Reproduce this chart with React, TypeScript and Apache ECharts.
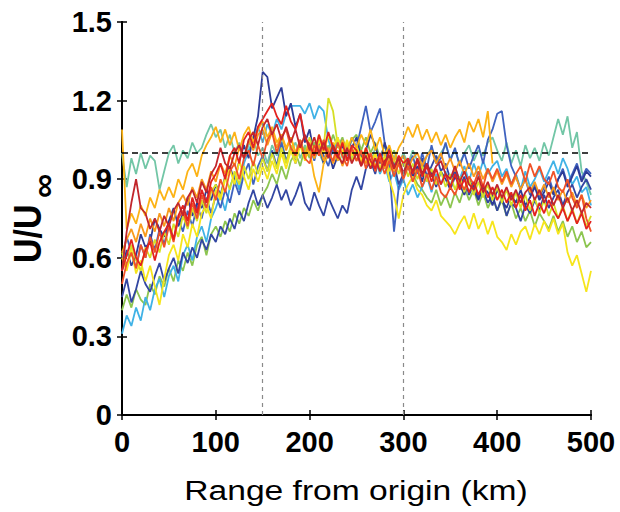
import React, { useEffect, useRef } from "react";
import * as echarts from "echarts";

// Range from origin (km), sampled every 5 km
const rangeKm: number[] = Array.from({ length: 101 }, (_, i) => i * 5);

const xTicks = [0, 100, 200, 300, 400, 500];
const yTicks = [0, 0.3, 0.6, 0.9, 1.2, 1.5];
const refLevel = [1.0];
const refRanges = [150, 300];

const navyPeak = [
  0.55, 0.63, 0.57, 0.61, 0.69, 0.64, 0.66, 0.75, 0.71, 0.68,
  0.74, 0.79, 0.72, 0.77, 0.83, 0.76, 0.81, 0.79, 0.86, 0.82,
  0.88, 0.84, 0.91, 0.95, 0.89, 0.97, 1.03, 0.98, 1.06, 1.14,
  1.31, 1.29, 1.17, 1.21, 1.25, 1.14, 1.19, 1.10, 1.15, 1.04,
  1.09, 0.99, 1.03, 0.96, 1.01, 0.94, 0.99, 1.03, 0.97, 1.02,
  1.06, 0.98, 1.01, 1.07, 1.03, 0.96, 1.04, 0.98, 0.93, 0.97,
  0.92, 0.98, 0.91, 0.95, 0.89, 0.96, 0.92, 0.87, 0.93, 0.90,
  0.86, 0.91, 0.88, 0.84, 0.90, 0.86, 0.82, 0.87, 0.85, 0.80,
  0.86, 0.82, 0.79, 0.84, 0.81, 0.86, 0.80, 0.83, 0.87, 0.82,
  0.85, 0.89, 0.84, 0.90, 0.93, 0.87, 0.91, 0.95, 0.89, 0.93, 0.91,
];
const navyLow = [
  0.45, 0.52, 0.43, 0.48, 0.55, 0.50, 0.47, 0.53, 0.58, 0.51,
  0.56, 0.60, 0.54, 0.62, 0.58, 0.64, 0.60, 0.67, 0.63, 0.69,
  0.66, 0.72, 0.69, 0.75, 0.71, 0.78, 0.74, 0.81, 0.86, 0.80,
  0.84, 0.79, 0.83, 0.88, 0.82, 0.86, 0.80, 0.84, 0.89, 0.81,
  0.78, 0.85, 0.80, 0.76, 0.83, 0.79, 0.75, 0.80, 0.77, 0.86,
  0.91, 0.86, 0.94, 0.97, 0.92, 1.00, 0.95, 1.02, 0.96, 0.88,
  0.92, 0.96, 0.89, 0.94, 0.98, 0.91, 0.95, 0.99, 0.93, 0.96,
  0.90, 0.93, 0.87, 0.91, 0.84, 0.88, 0.83, 0.86, 0.81, 0.84,
  0.78, 0.83, 0.76, 0.81, 0.79, 0.74, 0.80, 0.77, 0.82, 0.78,
  0.84, 0.79, 0.83, 0.86, 0.80, 0.85, 0.88, 0.83, 0.87, 0.90, 0.86,
];
const blueMid = [
  0.60, 0.68, 0.62, 0.56, 0.65, 0.60, 0.69, 0.63, 0.71, 0.65,
  0.73, 0.67, 0.75, 0.70, 0.78, 0.72, 0.80, 0.75, 0.83, 0.77,
  0.84, 0.79, 0.86, 0.81, 0.89, 0.84, 0.92, 0.96, 0.88, 0.95,
  0.99, 0.93, 1.01, 0.95, 1.04, 0.97, 1.02, 0.96, 1.05, 0.99,
  1.03, 0.97, 1.04, 0.99, 0.95, 1.02, 0.97, 1.05, 0.99, 1.06,
  1.02, 1.10, 1.18, 1.08, 1.12, 1.17, 1.04, 0.95, 0.70, 0.87,
  0.91, 0.95, 0.99, 0.92, 1.00, 0.94, 1.03, 0.96, 0.98, 1.04,
  0.97, 1.02, 0.95, 1.00, 0.94, 0.99, 1.03, 0.96, 1.05, 1.09,
  1.15, 1.16, 1.03, 0.95, 0.91, 0.86, 0.90, 0.84, 0.88, 0.83,
  0.87, 0.91, 0.85, 0.90, 0.94, 0.88, 0.92, 0.96, 0.90, 0.94, 0.92,
];
const skyBlue = [
  0.31, 0.38, 0.34, 0.41, 0.36, 0.45, 0.40, 0.48, 0.52, 0.45,
  0.53, 0.57, 0.51, 0.61, 0.65, 0.59, 0.68, 0.72, 0.66, 0.75,
  0.79, 0.84, 0.78, 0.87, 0.92, 0.86, 0.96, 1.01, 1.05, 1.10,
  1.04, 1.11, 1.07, 1.13, 1.09, 1.15, 1.18, 1.18, 1.18, 1.15,
  1.19, 1.13, 1.18, 1.16, 1.05, 1.00, 1.06, 0.99, 1.03, 0.97,
  1.01, 0.96, 1.00, 0.94, 0.98, 0.92, 0.96, 0.89, 0.93, 0.86,
  0.90, 0.84, 0.88, 0.83, 0.87, 0.91, 0.85, 0.92, 0.88, 0.93,
  0.87, 0.94, 0.90, 0.95, 0.89, 0.96, 0.91, 0.97, 0.92, 0.95,
  0.97, 0.91, 0.94, 0.88, 0.92, 0.86, 0.93, 0.87, 0.90, 0.94,
  0.89, 0.93, 0.97, 0.92, 0.98, 0.94, 0.88, 0.91, 0.85, 0.87, 0.80,
];
const teal = [
  1.00, 0.87, 0.98, 0.92, 1.00, 0.94, 0.99, 0.97, 0.86, 0.93,
  1.00, 1.03, 0.96, 1.01, 0.98, 1.04, 1.00, 1.02, 1.07, 1.11,
  1.06, 1.09, 1.02, 1.07, 1.00, 1.04, 0.98, 1.03, 1.06, 0.99,
  1.02, 0.96, 1.03, 0.99, 1.05, 0.97, 1.01, 1.04, 0.98, 1.03,
  0.99, 1.04, 1.00, 0.96, 1.03, 1.00, 1.05, 0.98, 1.02, 0.97,
  1.03, 0.99, 1.01, 0.96, 1.02, 0.98, 1.00, 0.95, 0.99, 0.96,
  1.00, 0.96, 1.01, 0.97, 0.94, 0.99, 1.02, 0.97, 1.00, 1.03,
  0.98, 1.01, 0.96, 1.00, 1.03, 0.97, 1.01, 0.99, 1.04, 1.06,
  1.01, 0.97, 1.04, 0.96, 1.01, 0.95, 1.03, 0.98, 1.02, 0.97,
  1.04, 0.99, 1.06, 1.13, 1.07, 1.14, 1.02, 1.08, 0.93, 0.89, 0.84,
];
const lightGreen = [
  0.40, 0.46, 0.41, 0.48, 0.44, 0.42, 0.50, 0.46, 0.53, 0.49,
  0.56, 0.51, 0.59, 0.55, 0.62, 0.57, 0.65, 0.68, 0.61, 0.69,
  0.72, 0.68, 0.74, 0.70, 0.77, 0.73, 0.79, 0.76, 0.82, 0.78,
  0.84, 0.87, 0.92, 0.88, 0.95, 0.90, 0.97, 1.00, 0.95, 1.02,
  0.98, 1.04, 0.99, 1.05, 1.01, 1.07, 1.02, 1.06, 1.00, 1.05,
  1.07, 1.01, 1.06, 1.00, 1.04, 0.98, 1.03, 0.97, 1.01, 0.96,
  0.99, 0.94, 0.92, 0.88, 0.86, 0.83, 0.81, 0.86, 0.80, 0.84,
  0.79, 0.85, 0.81, 0.87, 0.82, 0.86, 0.80, 0.85, 0.79, 0.83,
  0.78, 0.82, 0.76, 0.81, 0.75, 0.79, 0.74, 0.78, 0.72, 0.77,
  0.74, 0.71, 0.76, 0.70, 0.74, 0.68, 0.72, 0.66, 0.70, 0.64, 0.66,
];
const yellow = [
  0.60, 0.55, 0.63, 0.54, 0.59, 0.51, 0.57, 0.49, 0.42, 0.52,
  0.61, 0.65, 0.59, 0.69, 0.64, 0.73, 0.68, 0.77, 0.80, 0.75,
  0.86, 0.82, 0.90, 0.94, 0.88, 0.97, 0.91, 0.86, 0.94, 0.89,
  0.95, 0.90, 0.97, 0.92, 1.00, 0.94, 1.01, 0.96, 1.03, 0.97,
  1.03, 0.98, 1.05, 1.00, 1.07, 1.02, 1.06, 1.00, 1.05, 0.99,
  1.03, 0.97, 1.02, 0.95, 1.00, 0.93, 0.98, 0.90, 0.84, 0.75,
  0.84, 0.88, 0.91, 0.86, 0.84, 0.80, 0.78, 0.82, 0.76, 0.74,
  0.72, 0.69, 0.73, 0.76, 0.71, 0.77, 0.71, 0.75, 0.69, 0.74,
  0.68, 0.66, 0.63, 0.69, 0.65, 0.70, 0.72, 0.67, 0.73, 0.69,
  0.74, 0.70, 0.75, 0.69, 0.73, 0.62, 0.57, 0.61, 0.54, 0.47, 0.55,
];
const lime = [
  0.62, 0.56, 0.65, 0.59, 0.55, 0.64, 0.60, 0.67, 0.62, 0.70,
  0.65, 0.73, 0.68, 0.76, 0.71, 0.79, 0.74, 0.82, 0.77, 0.85,
  0.88, 0.83, 0.91, 0.86, 0.93, 0.88, 0.95, 0.90, 0.97, 0.92,
  0.98, 0.93, 1.00, 0.94, 1.02, 0.96, 1.03, 0.98, 1.05, 0.99,
  1.06, 1.00, 1.07, 1.02, 1.21, 1.16, 1.03, 0.99, 1.04, 0.97,
  1.02, 0.96, 1.01, 0.95, 1.00, 0.94, 0.99, 0.93, 0.98, 0.92,
  0.97, 0.91, 0.96, 0.90, 0.95, 0.89, 0.94, 0.88, 0.93, 0.87,
  0.92, 0.86, 0.91, 0.85, 0.90, 0.84, 0.89, 0.83, 0.88, 0.82,
  0.87, 0.81, 0.86, 0.80, 0.85, 0.79, 0.84, 0.78, 0.83, 0.77,
  0.82, 0.76, 0.81, 0.75, 0.80, 0.74, 0.79, 0.73, 0.78, 0.72, 0.76,
];
const gold = [
  1.09, 0.71, 0.77, 0.73, 0.80, 0.76, 0.83, 0.79, 0.86, 0.82,
  0.87, 0.83, 0.90, 0.86, 0.93, 0.96, 0.91, 0.99, 1.03, 1.06,
  1.10, 1.04, 1.09, 1.03, 1.08, 1.01, 1.07, 1.10, 1.04, 1.09,
  1.12, 1.06, 1.10, 1.04, 1.07, 1.02, 1.06, 1.00, 1.04, 0.98,
  1.01, 0.91, 0.85, 0.96, 0.99, 1.04, 0.97, 1.05, 1.01, 1.06,
  1.02, 1.07, 1.03, 1.09, 1.01, 1.06, 0.99, 1.03, 0.97, 1.02,
  1.05, 1.10, 1.06, 1.11, 1.05, 1.09, 1.04, 1.08, 1.03, 1.07,
  1.02, 1.06, 1.09, 1.04, 1.12, 1.08, 1.13, 1.06, 1.16, 0.96,
  null, null, null, null, null, null, null, null, null, null,
  null, null, null, null, null, null, null, null, null, null, null,
];
const orangeRed = [
  0.50, 0.58, 0.62, 0.56, 0.65, 0.60, 0.68, 0.62, 0.70, 0.64,
  0.72, 0.66, 0.75, 0.78, 0.72, 0.81, 0.75, 0.84, 0.79, 0.87,
  0.82, 0.90, 0.85, 0.93, 0.96, 0.90, 0.98, 1.01, 0.95, 1.03,
  0.98, 1.05, 1.08, 1.00, 1.06, 1.09, 1.02, 0.99, 1.05, 0.98,
  0.96, 1.03, 0.99, 1.05, 1.00, 0.97, 1.04, 0.99, 0.95, 1.02,
  0.97, 1.01, 0.94, 1.00, 0.93, 0.98, 0.92, 0.97, 0.91, 0.96,
  0.90, 0.95, 0.89, 0.94, 0.87, 0.92, 0.86, 0.91, 0.85, 0.83,
  0.87, 0.84, 0.89, 0.86, 0.91, 0.88, 0.93, 0.87, 0.94, 0.90,
  0.94, 0.89, 0.93, 0.88, 0.92, 0.95, 0.89, 0.96, 0.91, 0.95,
  0.90, 0.88, 0.93, 0.87, 0.85, 0.90, 0.83, 0.79, 0.84, 0.75, 0.70,
];
const red = [
  0.55, 0.61, 0.67, 0.60, 0.57, 0.63, 0.66, 0.59, 0.66, 0.70,
  0.73, 0.67, 0.76, 0.80, 0.74, 0.83, 0.77, 0.86, 0.81, 0.89,
  0.92, 0.96, 0.90, 0.99, 1.02, 0.96, 1.05, 1.08, 1.02, 1.10,
  1.13, 1.16, 1.19, 1.14, 1.11, 1.18, 1.12, 1.09, 1.15, 1.06,
  1.03, 0.99, 1.07, 1.01, 1.08, 1.02, 0.98, 1.04, 0.97, 1.03,
  1.01, 0.95, 1.02, 0.97, 0.94, 1.00, 0.95, 1.01, 0.94, 0.99,
  0.96, 0.98, 0.92, 0.97, 0.91, 0.95, 0.89, 0.94, 0.88, 0.92,
  0.87, 0.92, 0.86, 0.90, 0.85, 0.89, 0.84, 0.88, 0.83, 0.87,
  0.82, 0.86, 0.81, 0.85, 0.79, 0.84, 0.78, 0.82, 0.76, 0.81,
  0.77, 0.82, 0.78, 0.75, 0.79, 0.74, 0.78, 0.73, 0.77, 0.71, 0.74,
];
const darkRed = [
  0.55, 0.70, 0.81, 0.90, 0.79, 0.77, 0.71, 0.75, 0.70, 0.76,
  0.72, 0.78, 0.81, 0.76, 0.83, 0.86, 0.81, 0.89, 0.85, 0.92,
  0.95, 1.02, 0.96, 0.94, 1.00, 1.03, 0.98, 1.05, 1.08, 1.03,
  1.10, 1.13, 1.07, 1.11, 1.05, 1.10, 1.04, 1.09, 1.02, 1.07,
  1.01, 1.06, 1.00, 1.04, 0.98, 1.03, 0.99, 0.96, 1.02, 0.96,
  1.00, 0.95, 0.99, 0.94, 0.98, 0.93, 0.97, 0.99, 0.94, 0.98,
  0.92, 0.97, 0.93, 0.98, 0.92, 0.96, 0.91, 0.95, 0.97, 0.92,
  0.90, 0.95, 0.89, 0.93, 0.88, 0.86, 0.91, 0.85, 0.89, 0.84,
  0.88, 0.83, 0.87, 0.82, 0.86, 0.81, 0.85, 0.87, 0.82, 0.86,
  0.81, 0.85, 0.80, 0.84, 0.79, 0.83, 0.78, 0.82, 0.77, 0.81, 0.79,
];
const orange = [
  0.62, 0.67, 0.71, 0.66, 0.73, 0.68, 0.75, 0.70, 0.77, 0.72,
  0.79, 0.74, 0.81, 0.84, 0.80, 0.87, 0.83, 0.90, 0.86, 0.93,
  0.89, 0.96, 0.92, 0.99, 0.95, 1.02, 0.98, 1.05, 1.01, 1.07,
  1.09, 1.03, 1.08, 1.02, 1.07, 1.01, 1.06, 1.00, 1.05, 0.99,
  1.04, 0.98, 1.03, 0.97, 1.02, 0.96, 1.01, 0.95, 1.00, 1.02,
  0.97, 1.01, 0.96, 1.00, 0.95, 0.99, 0.94, 0.98, 0.93, 0.97,
  0.99, 0.94, 0.98, 1.00, 0.95, 0.99, 1.01, 0.96, 1.00, 0.94,
  0.98, 0.93, 0.97, 0.92, 0.96, 0.91, 0.95, 0.90, 0.94, 0.89,
  0.93, 0.88, 0.92, 0.87, 0.91, 0.86, 0.90, 0.85, 0.89, 0.84,
  0.88, 0.83, 0.87, 0.82, 0.86, 0.81, 0.85, 0.80, 0.84, 0.79, 0.82,
];

const profiles: { name: string; color: string; values: (number | null)[] }[] = [
  { name: "teal", color: "#72c6a6", values: teal },
  { name: "lightGreen", color: "#8cc54f", values: lightGreen },
  { name: "skyBlue", color: "#40b2e6", values: skyBlue },
  { name: "navyLow", color: "#3246a2", values: navyLow },
  { name: "blueMid", color: "#3f62bf", values: blueMid },
  { name: "navyPeak", color: "#2d3b96", values: navyPeak },
  { name: "lime", color: "#d6df26", values: lime },
  { name: "yellow", color: "#f6e51c", values: yellow },
  { name: "orange", color: "#f89a1c", values: orange },
  { name: "gold", color: "#fcb316", values: gold },
  { name: "orangeRed", color: "#f05228", values: orangeRed },
  { name: "red", color: "#e3221f", values: red },
  { name: "darkRed", color: "#c2262c", values: darkRed },
];

const FONT = "'Liberation Sans', Arial, Helvetica, sans-serif";

export default function App() {
  const ref = useRef<HTMLDivElement>(null);

  useEffect(() => {
    if (!ref.current) return;
    const chart = echarts.init(ref.current, undefined, { renderer: "svg" });

    const axisLine = { show: true, lineStyle: { color: "#000", width: 2 } };
    const axisTick = { show: true, inside: true, length: 5, lineStyle: { color: "#000", width: 1.5 } };

    const dataSeries = profiles.map((p) => ({
      name: p.name,
      type: "line",
      data: rangeKm.map((x, i) => [x, p.values[i]]),
      showSymbol: false,
      symbol: "none",
      connectNulls: false,
      lineStyle: { color: p.color, width: 1.8 },
      itemStyle: { color: p.color },
      z: 3,
      silent: true,
    }));

    const option: any = {
      animation: false,
      backgroundColor: "#ffffff",
      grid: { left: 122, right: 29, top: 22, bottom: 97, containLabel: false },
      xAxis: [
        {
          type: "value",
          min: xTicks[0],
          max: xTicks[xTicks.length - 1],
          interval: 100,
          position: "bottom",
          axisLine,
          axisTick,
          splitLine: { show: false },
          axisLabel: {
            show: true,
            margin: 12,
            fontSize: 29,
            fontWeight: "bold",
            fontFamily: FONT,
            color: "#000",
          },
        },
        {
          type: "value",
          min: xTicks[0],
          max: xTicks[xTicks.length - 1],
          interval: 100,
          position: "top",
          axisLine,
          axisTick,
          splitLine: { show: false },
          axisLabel: { show: false },
        },
      ],
      yAxis: [
        {
          type: "value",
          min: yTicks[0],
          max: yTicks[yTicks.length - 1],
          interval: 0.3,
          position: "left",
          axisLine,
          axisTick,
          splitLine: { show: false },
          axisLabel: {
            show: true,
            margin: 10,
            fontSize: 29,
            fontWeight: "bold",
            fontFamily: FONT,
            color: "#000",
            formatter: (v: number) => (Math.abs(v) < 1e-9 ? "0" : v.toFixed(1)),
          },
        },
        {
          type: "value",
          min: yTicks[0],
          max: yTicks[yTicks.length - 1],
          interval: 0.3,
          position: "right",
          axisLine,
          axisTick,
          splitLine: { show: false },
          axisLabel: { show: false },
        },
      ],
      series: [
        {
          name: "refRanges",
          type: "line",
          data: [],
          z: 1,
          silent: true,
          markLine: {
            silent: true,
            symbol: ["none", "none"],
            label: { show: false },
            lineStyle: { color: "#8a8a8a", type: [4, 4], width: 1.2 },
            data: refRanges.map((r) => ({ xAxis: r })),
          },
        },
        ...dataSeries,
        {
          name: "refLevel",
          type: "line",
          data: [],
          z: 6,
          silent: true,
          markLine: {
            silent: true,
            symbol: ["none", "none"],
            label: { show: false },
            lineStyle: { color: "#000", type: [6, 4], width: 1.5 },
            data: refLevel.map((v) => ({ yAxis: v })),
          },
        },
      ],
      graphic: [
        {
          type: "text",
          x: 356,
          y: 490,
          scaleX: 1.2,
          style: {
            text: "Range from origin (km)",
            fontSize: 28,
            fontFamily: FONT,
            fill: "#000",
            align: "center",
            verticalAlign: "middle",
            textAlign: "center",
            textVerticalAlign: "middle",
          },
        },
        {
          type: "group",
          x: 28,
          y: 263,
          rotation: Math.PI / 2,
          children: [
            {
              type: "text",
              x: 0,
              y: 0,
              scaleY: 1.15,
              style: {
                text: "U/U",
                fontSize: 34,
                fontWeight: "bold",
                fontFamily: FONT,
                fill: "#000",
                align: "left",
                verticalAlign: "middle",
                textAlign: "left",
                textVerticalAlign: "middle",
              },
            },
            {
              type: "text",
              x: 65,
              y: 15,
              style: {
                text: "∞",
                fontSize: 34,
                fontWeight: "bold",
                fontFamily: FONT,
                fill: "#000",
                align: "left",
                verticalAlign: "middle",
                textAlign: "left",
                textVerticalAlign: "middle",
              },
            },
          ],
        },
      ],
    };

    chart.setOption(option);
    return () => chart.dispose();
  }, []);

  return (
    <div
      ref={ref}
      style={{ position: "fixed", left: 0, top: 0, width: 620, height: 512, background: "#fff" }}
    />
  );
}
